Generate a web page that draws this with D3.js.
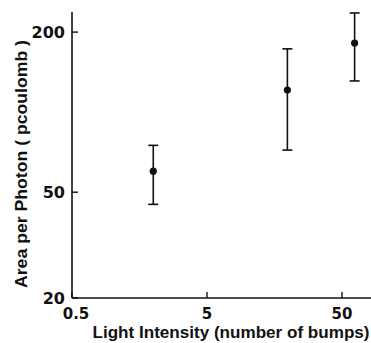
<!DOCTYPE html>
<html>
<head>
<meta charset="utf-8">
<script src="https://cdn.jsdelivr.net/npm/d3@7"></script>
<style>
  body { margin: 0; background: #fff; }
  svg text { font-weight: bold; fill: #111; }
  .tickLabel { font-family: "DejaVu Sans", sans-serif; }
  .axisTitle { font-family: "Liberation Sans", Arial, sans-serif; }
</style>
</head>
<body>
<div id="chart"></div>
<script>
const WIDTH = 371;
const HEIGHT = 343;

// values
const intensity = [2, 19.7, 62];
const areaMean = [60, 121, 182];
const areaLow = [45, 72, 131];
const areaHigh = [75, 173, 236];
const xTicks = [0.5, 5, 50];
const yTicks = [20, 50, 200];

const svg = d3.select("#chart").append("svg")
    .attr("width", WIDTH)
    .attr("height", HEIGHT);

const x = d3.scaleLog().domain([0.5, 82]).range([72, 371]);
const y = d3.scaleLog().domain([20, 238]).range([298, 12]);

// axes lines
svg.append("line")
    .attr("x1", x(0.5)).attr("x2", WIDTH)
    .attr("y1", y(20)).attr("y2", y(20))
    .attr("stroke", "#111").attr("stroke-width", 1.6);
svg.append("line")
    .attr("x1", x(0.5)).attr("x2", x(0.5))
    .attr("y1", y(20)).attr("y2", 12)
    .attr("stroke", "#111").attr("stroke-width", 1.6);

// x ticks (inward)
xTicks.forEach((t, i) => {
    svg.append("line")
        .attr("x1", x(t)).attr("x2", x(t))
        .attr("y1", y(20)).attr("y2", y(20) - 6)
        .attr("stroke", "#111").attr("stroke-width", 1.4);
    svg.append("text")
        .attr("class", "tickLabel")
        .attr("x", x(t) + (i == 0 ? 4 : 0))
        .attr("y", 319)
        .attr("text-anchor", "middle")
        .attr("font-size", 15)
        .text(t);
});

// y ticks (inward)
yTicks.forEach((t) => {
    svg.append("line")
        .attr("x1", x(0.5)).attr("x2", x(0.5) + 6)
        .attr("y1", y(t)).attr("y2", y(t))
        .attr("stroke", "#111").attr("stroke-width", 1.4);
    svg.append("text")
        .attr("class", "tickLabel")
        .attr("x", 65)
        .attr("y", y(t))
        .attr("dy", "0.36em")
        .attr("text-anchor", "end")
        .attr("font-size", 16)
        .text(t);
});

// error bars
const bars = svg.append("g").attr("stroke", "#111").attr("stroke-width", 1.6);
intensity.forEach((v, i) => {
    bars.append("line")
        .attr("x1", x(v)).attr("x2", x(v))
        .attr("y1", y(areaLow[i])).attr("y2", y(areaHigh[i]));
    bars.append("line")
        .attr("x1", x(v) - 5).attr("x2", x(v) + 5)
        .attr("y1", y(areaLow[i])).attr("y2", y(areaLow[i]));
    bars.append("line")
        .attr("x1", x(v) - 5).attr("x2", x(v) + 5)
        .attr("y1", y(areaHigh[i])).attr("y2", y(areaHigh[i]));
});

// points
svg.selectAll("circle.pt")
    .data(intensity)
    .join("circle")
    .attr("class", "pt")
    .attr("cx", (d) => x(d))
    .attr("cy", (d, i) => y(areaMean[i]))
    .attr("r", 3.6)
    .attr("fill", "#111");

// axis titles
svg.append("text")
    .attr("class", "axisTitle")
    .attr("x", 231)
    .attr("y", 338)
    .attr("text-anchor", "middle")
    .attr("font-size", 16.5)
    .attr("textLength", 277)
    .attr("lengthAdjust", "spacingAndGlyphs")
    .text("Light Intensity (number of bumps)");

svg.append("text")
    .attr("class", "axisTitle")
    .attr("transform", "translate(27,164) rotate(-90)")
    .attr("text-anchor", "middle")
    .attr("font-size", 17)
    .attr("textLength", 248)
    .attr("lengthAdjust", "spacingAndGlyphs")
    .text("Area per Photon ( pcoulomb )");
</script>
</body>
</html>
